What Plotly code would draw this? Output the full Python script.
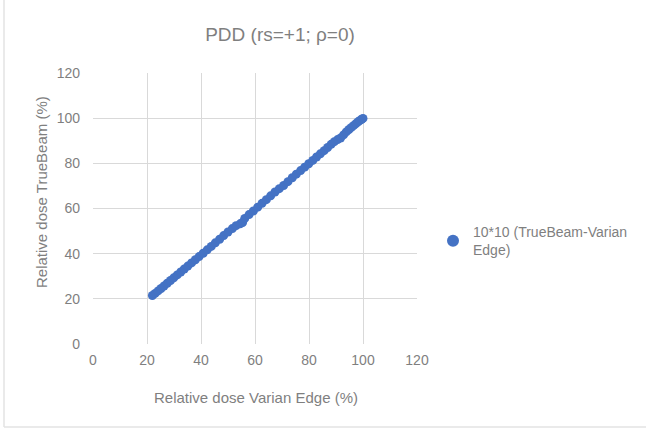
import plotly.graph_objects as go

varian_edge = [22.0, 23.0, 24.1, 25.2, 26.3, 27.5, 28.7, 29.9, 31.2, 32.5, 33.8, 35.1, 36.5, 37.9,
               39.3, 40.8, 42.3, 43.8, 45.3, 46.9, 48.4, 50.0, 51.6, 53.0, 54.5, 55.4, 56.2, 57.8,
               59.4, 61.0, 62.6, 64.2, 65.8, 67.4, 69.0, 70.6, 72.2, 73.8, 75.3, 76.9, 78.4, 79.9,
               81.4, 82.8, 84.2, 85.6, 86.9, 88.2, 89.4, 90.6, 91.7, 92.8, 93.8, 94.8, 95.7, 96.6,
               97.4, 98.2, 98.9, 99.5, 100.0]
truebeam = [21.5, 22.4, 23.5, 24.6, 25.7, 26.9, 28.1, 29.3, 30.6, 31.9, 33.2, 34.5, 35.9, 37.3,
            38.7, 40.2, 41.7, 43.2, 44.8, 46.4, 48.0, 49.6, 51.1, 52.4, 53.2, 53.8, 55.6, 57.3,
            58.9, 60.6, 62.3, 63.9, 65.6, 67.3, 68.8, 70.2, 71.9, 73.6, 75.2, 76.8, 78.3, 79.8,
            81.3, 82.8, 84.2, 85.6, 87.0, 88.4, 89.6, 90.5, 91.2, 92.6, 93.9, 95.0, 95.9, 96.8,
            97.6, 98.4, 99.0, 99.5, 99.9]
tick_vals = [0, 20, 40, 60, 80, 100, 120]

chart_title = "PDD (rs=+1; ρ=0)"
x_title = "Relative dose Varian Edge (%)"
y_title = "Relative dose TrueBeam (%)"
series_name = "10*10 (TrueBeam-Varian<br>Edge)"
blue = "#4472C4"
grey_text = "#7f7f7f"
grid = "#d9d9d9"
font_family = "Liberation Sans, Arial, sans-serif"

fig = go.Figure()
fig.add_trace(go.Scatter(
    x=varian_edge, y=truebeam, mode="markers", name=series_name,
    marker=dict(color=blue, size=9, line=dict(width=0)),
    showlegend=True,
))

W, H = 646, 433
L, R, T, B = 93, 229, 73, 89
pw, ph = W - L - R, H - T - B

def px_x(p):
    return (p - L) / pw

def px_y(p):
    return (H - B - p) / ph

# outer chart border (left and bottom visible in the reference)
fig.add_shape(type="line", xref="paper", yref="paper",
              x0=px_x(4), x1=px_x(4), y0=px_y(0), y1=px_y(427),
              line=dict(color="#e3e3e3", width=1.5))
fig.add_shape(type="line", xref="paper", yref="paper",
              x0=px_x(4), x1=px_x(646), y0=px_y(427), y1=px_y(427),
              line=dict(color="#e3e3e3", width=1.5))

fig.add_annotation(text=x_title, xref="paper", yref="paper",
                   x=px_x(256), y=px_y(397), xanchor="center", yanchor="middle",
                   showarrow=False, font=dict(size=15, color=grey_text, family=font_family))
fig.add_annotation(text=y_title, xref="paper", yref="paper", textangle=-90,
                   x=px_x(41), y=px_y(192), xanchor="center", yanchor="middle",
                   showarrow=False, font=dict(size=15, color=grey_text, family=font_family))

fig.update_layout(
    width=W, height=H,
    margin=dict(l=L, r=R, t=T, b=B, autoexpand=False),
    paper_bgcolor="white", plot_bgcolor="white",
    font=dict(family=font_family, color=grey_text, size=14),
    title=dict(text=chart_title, x=280 / W, xanchor="center",
               y=1 - 34 / H, yanchor="middle",
               font=dict(size=19, color=grey_text, family=font_family)),
    xaxis=dict(range=[0, 120], tickvals=tick_vals, showgrid=True, gridcolor=grid, gridwidth=1,
               zeroline=False, showline=False, ticks="", ticklabelstandoff=6,
               tickfont=dict(size=14, color=grey_text)),
    yaxis=dict(range=[0, 120], tickvals=tick_vals, showgrid=True, gridcolor=grid, gridwidth=1,
               zeroline=False, showline=False, ticks="", ticklabelstandoff=12,
               tickfont=dict(size=14, color=grey_text)),
    legend=dict(xref="container", yref="container", x=433 / W, y=1 - 241 / H,
                xanchor="left", yanchor="middle",
                font=dict(size=14, color=grey_text), bgcolor="rgba(0,0,0,0)",
                itemsizing="constant", itemwidth=30, tracegroupgap=0),
)

fig.write_html("out.html", config={"displayModeBar": False},
               post_script="document.body.style.margin='0';document.body.style.overflow='hidden';")
